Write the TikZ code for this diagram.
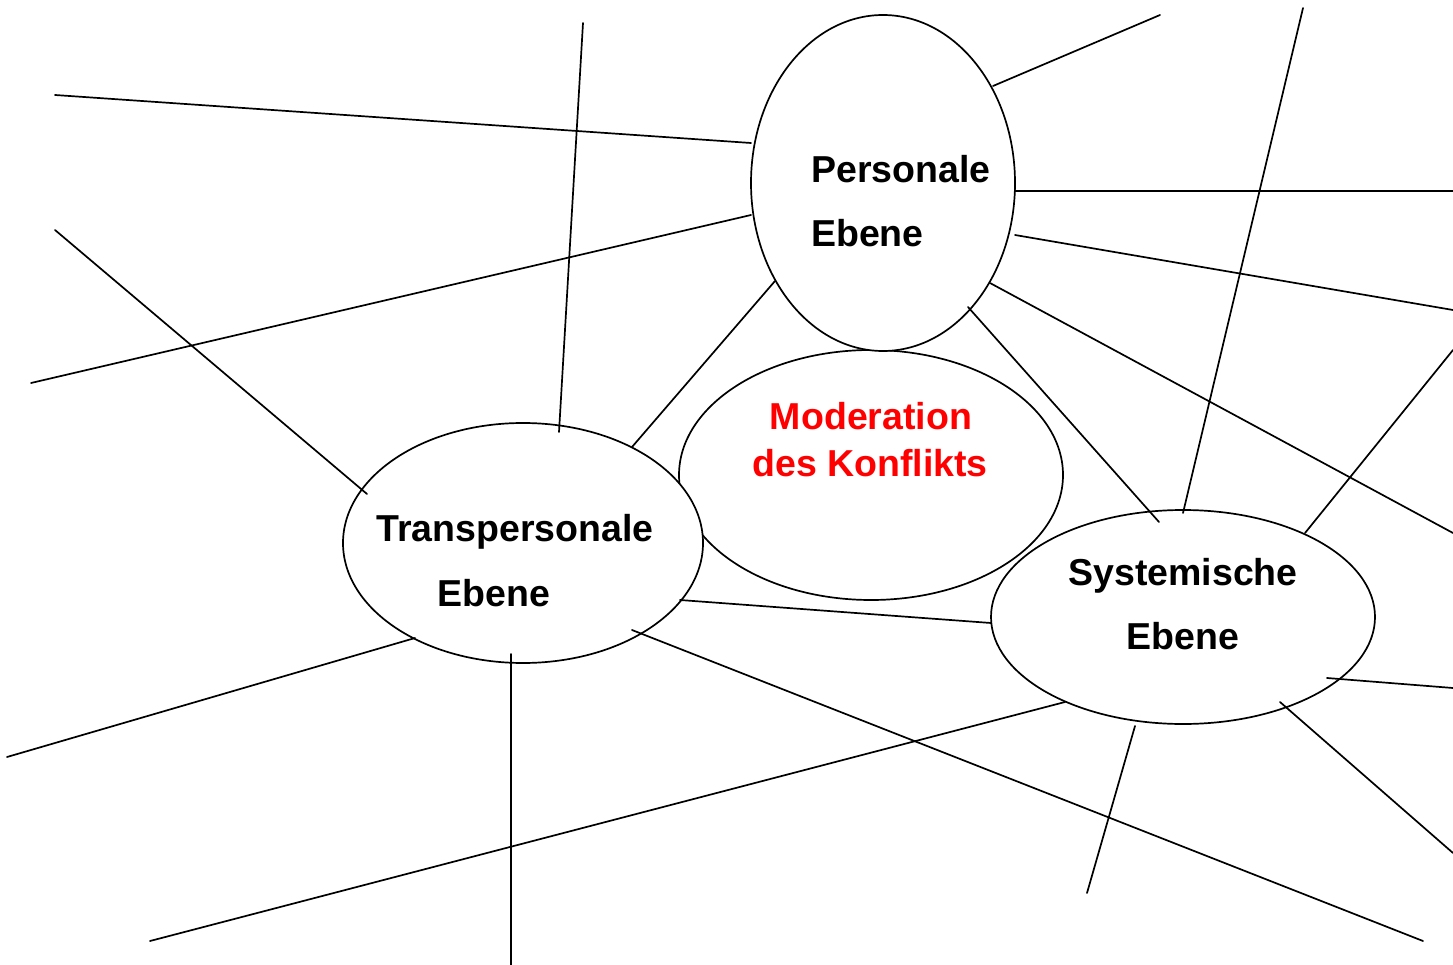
\documentclass[tikz,border=0pt]{standalone}
\usepackage{fontspec}
\setmainfont{Liberation Sans}
\usetikzlibrary{shapes.geometric}
\definecolor{modred}{RGB}{255,0,0}
\begin{document}
\begin{tikzpicture}[x=1pt,y=-1pt,
  ring/.style={draw,line width=1.7pt,fill=white,ellipse,inner sep=0pt},
  link/.style={line width=1.7pt,line cap=round},
  lab/.style={font=\fontsize{37.5}{37.5}\selectfont\bfseries,anchor=base,inner sep=0pt}]
\useasboundingbox (0,0) rectangle (1453,965);
% ellipses
\node[ring,minimum width=384pt,minimum height=250pt] (mod) at (871,475) {};
\node[ring,minimum width=264pt,minimum height=336pt] (pers) at (883,183) {};
\node[ring,minimum width=360pt,minimum height=240pt] (trans) at (523,543) {};
\node[ring,minimum width=384pt,minimum height=214pt] (sys) at (1183,617) {};
% lines
\draw[link] (55,95) -- (751,143);
\draw[link] (583,23) -- (559,432);
\draw[link] (55,230) -- (367,494);
\draw[link] (31,383) -- (751,215);
\draw[link] (775,281) -- (632,447);
\draw[link] (993,86) -- (1160,15);
\draw[link] (1015,191) -- (1453,191);
\draw[link] (1015,235) -- (1453,310);
\draw[link] (990,283) -- (1453,533);
\draw[link] (968,307) -- (1159,522);
\draw[link] (1303,8) -- (1183,513);
\draw[link] (1453,350) -- (1305,533);
\draw[link] (680,600) -- (991,623);
\draw[link] (7,757) -- (415,638);
\draw[link] (511,654) -- (511,965);
\draw[link] (632,630) -- (1423,941);
\draw[link] (150,941) -- (1065,702);
\draw[link] (1135,726) -- (1087,893);
\draw[link] (1327,678) -- (1453,688);
\draw[link] (1280,702) -- (1453,853);
% texts
\node[lab,anchor=base west] (p1) at (811,183) {Personale};
\node[lab,anchor=base west] (p2) at (811,247) {Ebene};
\node[lab,text=modred] (m1) at (871,429) {Moderation};
\node[lab,text=modred] (m2) at (870,476) {des Konflikts};
\node[lab] (t1) at (515,541) {Transpersonale};
\node[lab] (t2) at (494,606) {Ebene};
\node[lab] (s1) at (1183,585) {Systemische};
\node[lab] (s2) at (1183,649) {Ebene};
\end{tikzpicture}
\end{document}
